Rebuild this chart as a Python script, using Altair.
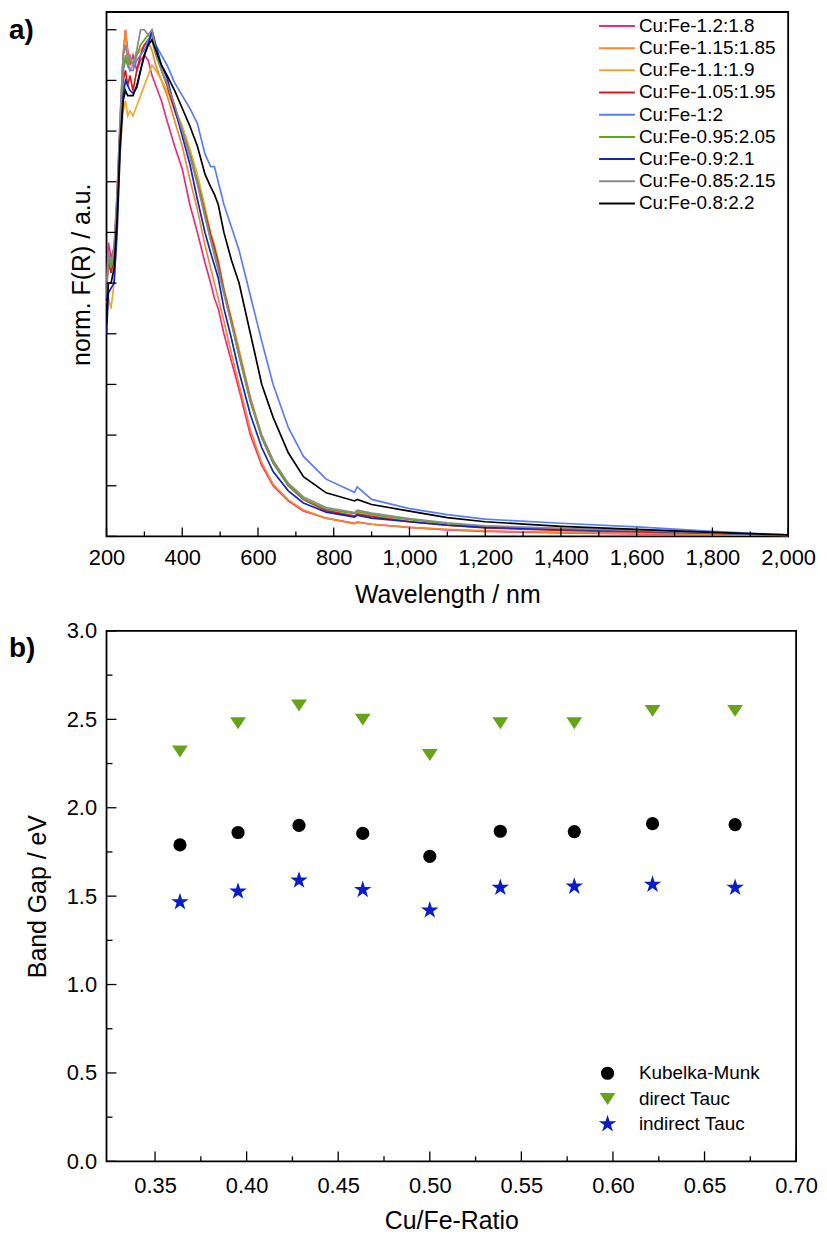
import altair as alt
import pandas as pd

FONT = "Liberation Sans"

# ---------------- panel a) data ----------------
series_names = ["Cu:Fe-1.2:1.8", "Cu:Fe-1.15:1.85", "Cu:Fe-1.1:1.9", "Cu:Fe-1.05:1.95",
                "Cu:Fe-1:2", "Cu:Fe-0.95:2.05", "Cu:Fe-0.9:2.1", "Cu:Fe-0.85:2.15", "Cu:Fe-0.8:2.2"]
series_colors = ["#f5277d", "#f7862f", "#f0a92a", "#d7191c", "#5b7cfa",
                 "#5fa624", "#1122cc", "#8a8a8a", "#000000"]

wavelength = [200, 205, 212, 220, 228, 236, 244, 250, 256, 262, 270, 280, 290, 300, 310, 320,
              330, 345, 360, 380, 400, 420, 440, 460, 475, 485, 495, 510, 530, 550, 580, 610,
              640, 680, 720, 780, 855, 862, 900, 1000, 1100, 1200, 1400, 1600, 1800, 2000]

fr_12_18 = [.50, .58, .55, .57, .68, .82, .95, 1.00, .96, .93, .95, .92, .94, .95, .94, .91,
            .89, .86, .82, .77, .725, .655, .60, .54, .50, .47, .45, .40, .345, .29, .20, .14,
            .10, .07, .05, .036, .026, .028, .024, .018, .013, .010, .007, .005, .003, .002]
fr_115_185 = [.48, .54, .52, .55, .66, .80, .95, 1.00, .95, .92, .93, .95, .96, .97, .975, .96,
              .93, .90, .87, .82, .77, .705, .645, .575, .53, .50, .47, .425, .36, .30, .21, .145,
              .103, .072, .052, .036, .025, .028, .024, .018, .014, .011, .008, .006, .004, .002]
fr_11_19 = [.46, .47, .45, .50, .62, .76, .84, .86, .83, .84, .83, .85, .87, .89, .91, .93,
            .92, .90, .88, .845, .81, .765, .715, .65, .60, .575, .545, .49, .43, .37, .275, .20,
            .15, .102, .075, .052, .040, .045, .040, .030, .023, .018, .013, .010, .006, .002]
fr_105_195 = [.49, .55, .52, .55, .65, .80, .90, .92, .89, .91, .88, .92, .95, .97, .98, .99,
              .96, .92, .89, .84, .80, .755, .70, .64, .595, .57, .54, .485, .425, .36, .27, .195,
              .145, .10, .073, .051, .040, .044, .039, .029, .022, .017, .012, .009, .006, .002]
fr_1_2 = [.47, .56, .53, .56, .66, .80, .92, .94, .93, .92, .92, .94, .95, .96, .98, .99,
          .97, .95, .93, .895, .87, .845, .815, .755, .73, .73, .70, .655, .61, .565, .475, .385,
          .30, .215, .158, .113, .087, .098, .073, .055, .043, .034, .026, .019, .010, .003]
fr_095_205 = [.50, .55, .53, .56, .66, .81, .92, .95, .93, .94, .93, .95, .97, .98, .99, .98,
              .95, .92, .895, .85, .80, .755, .70, .635, .585, .555, .525, .48, .42, .355, .265, .195,
              .145, .10, .074, .054, .045, .049, .043, .033, .025, .020, .015, .011, .007, .002]
fr_09_21 = [.40, .48, .49, .50, .60, .76, .87, .90, .89, .88, .875, .885, .92, .95, .97, 1.00,
            .97, .93, .905, .845, .79, .735, .665, .60, .56, .535, .51, .45, .39, .325, .24, .175,
            .128, .09, .066, .048, .038, .042, .036, .029, .022, .018, .014, .011, .007, .002]
fr_085_215 = [.50, .56, .54, .57, .67, .83, .95, .97, .94, .95, .93, .96, 1.00, 1.00, .99, 1.00,
              .96, .92, .895, .85, .80, .75, .695, .63, .585, .56, .53, .48, .42, .36, .27, .20,
              .15, .105, .078, .057, .047, .052, .046, .035, .027, .021, .016, .012, .007, .002]
fr_08_22 = [.42, .50, .50, .53, .63, .78, .86, .88, .87, .87, .87, .89, .92, .95, .97, .98,
            .96, .93, .91, .88, .845, .81, .77, .715, .69, .675, .655, .60, .545, .50, .40, .30,
            .235, .165, .118, .086, .070, .073, .063, .050, .037, .029, .020, .014, .008, .003]

series_values = [fr_12_18, fr_115_185, fr_11_19, fr_105_195, fr_1_2,
                 fr_095_205, fr_09_21, fr_085_215, fr_08_22]

wl_label_values = [200, 400, 600, 800, 1000, 1200, 1400, 1600, 1800, 2000]
wl_minor_values = [300, 500, 700, 900, 1100, 1300, 1500, 1700, 1900]
fr_tick_values = [0.0, 0.1, 0.2, 0.3, 0.4, 0.5, 0.6, 0.7, 0.8, 0.9, 1.0]

# ---------------- panel b) data ----------------
STAR = ("M0,-1.4L0.315,-0.433L1.331,-0.433L0.508,0.165L0.823,1.133L0,0.535"
        "L-0.823,1.133L-0.508,0.165L-1.331,-0.433L-0.315,-0.433Z")
TRI_DOWN = "M-1.2,-0.85L1.2,-0.85L0,0.95Z"
methods = ["Kubelka-Munk", "direct Tauc", "indirect Tauc"]
method_colors = ["#000000", "#66a318", "#0a1ec8"]
method_shapes = ["circle", TRI_DOWN, STAR]
cu_fe_ratio = [0.3636, 0.3953, 0.4286, 0.4634, 0.5, 0.5385, 0.5789, 0.6216, 0.6667]
gap_km = [1.79, 1.86, 1.90, 1.855, 1.725, 1.867, 1.865, 1.91, 1.905]
gap_direct = [2.32, 2.48, 2.58, 2.50, 2.30, 2.48, 2.48, 2.55, 2.55]
gap_indirect = [1.467, 1.527, 1.589, 1.536, 1.42, 1.548, 1.555, 1.566, 1.548]

ratio_label_values = [0.35, 0.40, 0.45, 0.50, 0.55, 0.60, 0.65, 0.70]
ratio_minor_values = [0.375, 0.425, 0.475, 0.525, 0.575, 0.625, 0.675]
gap_label_values = [0.0, 0.5, 1.0, 1.5, 2.0, 2.5, 3.0]
gap_minor_values = [0.25, 0.75, 1.25, 1.75, 2.25, 2.75]

# ---------------- tables ----------------
rows = []
for name, vals in zip(series_names, series_values):
    for w, v in zip(wavelength, vals):
        rows.append({"name": name, "wl": w, "fr": v})
spec_df = pd.DataFrame(rows)

pts = []
for m, vals in zip(methods, [gap_km, gap_direct, gap_indirect]):
    for r, g in zip(cu_fe_ratio, vals):
        pts.append({"method": m, "ratio": r, "gap": g})
gap_df = pd.DataFrame(pts)

W1, H1 = 685, 527
W2, H2 = 693, 533
RULE = dict(color="black", strokeWidth=1.3)

xa = alt.Scale(domain=[200, 2000], nice=False, zero=False)
ya = alt.Scale(domain=[0, 1.035], nice=False, zero=False)

lines = alt.Chart(spec_df).mark_line(strokeWidth=1.7, clip=True).encode(
    x=alt.X("wl:Q", scale=xa, title="Wavelength / nm",
            axis=alt.Axis(values=wl_label_values, ticks=False, domain=False, grid=False,
                          labelFlush=False, labelOverlap=False, labelPadding=11, titlePadding=14)),
    y=alt.Y("fr:Q", scale=ya, title="norm. F(R) / a.u.",
            axis=alt.Axis(labels=False, ticks=False, domain=False, grid=False, titlePadding=12)),
    color=alt.Color("name:N", scale=alt.Scale(domain=series_names, range=series_colors), title=None,
                    legend=alt.Legend(orient="none", legendX=494, legendY=3, symbolType="stroke",
                                      symbolSize=1296, symbolStrokeWidth=2, clipHeight=22,
                                      rowPadding=0.3, labelOffset=3, labelFontSize=19,
                                      labelFont=FONT, labelColor="black", padding=0, labelLimit=300)),
)

a_xmaj = alt.Chart(pd.DataFrame({"t": wl_label_values})).mark_rule(**RULE).encode(
    x=alt.X("t:Q", scale=xa), y=alt.value(H1), y2=alt.value(H1 - 9))
a_xmin = alt.Chart(pd.DataFrame({"t": wl_minor_values})).mark_rule(**RULE).encode(
    x=alt.X("t:Q", scale=xa), y=alt.value(H1), y2=alt.value(H1 - 5))
a_ymaj = alt.Chart(pd.DataFrame({"t": fr_tick_values})).mark_rule(**RULE).encode(
    y=alt.Y("t:Q", scale=ya), x=alt.value(0), x2=alt.value(10))

tag_a = alt.Chart(pd.DataFrame({"tag": ["a)"]})).mark_text(
    align="left", baseline="middle", font=FONT, fontSize=28, fontWeight="bold", color="black").encode(
    x=alt.value(-98), y=alt.value(19), text="tag:N")

top = alt.layer(lines, a_xmaj, a_xmin, a_ymaj, tag_a).properties(width=W1, height=H1)

# ---------------- panel b) ----------------
xb = alt.Scale(domain=[0.3235, 0.70], nice=False, zero=False)
yb = alt.Scale(domain=[0, 3], nice=False, zero=False)

leg_b = alt.Legend(orient="none", legendX=494, legendY=432, symbolSize=175,
                   clipHeight=25, rowPadding=0.5, labelOffset=22, labelFontSize=19,
                   labelFont=FONT, labelColor="black", padding=0,
                   symbolStrokeWidth=0, labelLimit=300)

points = alt.Chart(gap_df).mark_point(filled=True, opacity=1, size=175).encode(
    x=alt.X("ratio:Q", scale=xb, title="Cu/Fe-Ratio",
            axis=alt.Axis(values=ratio_label_values, format=".2f", ticks=False, domain=False, grid=False,
                          labelFlush=False, labelOverlap=False, labelPadding=14, titlePadding=12)),
    y=alt.Y("gap:Q", scale=yb, title="Band Gap / eV",
            axis=alt.Axis(values=gap_label_values, format=".1f", ticks=False, domain=False, grid=False,
                          labelPadding=10, titlePadding=16)),
    shape=alt.Shape("method:N", scale=alt.Scale(domain=methods, range=method_shapes), title=None,
                    legend=leg_b),
    color=alt.Color("method:N", scale=alt.Scale(domain=methods, range=method_colors), title=None,
                    legend=leg_b),
)

b_xmaj = alt.Chart(pd.DataFrame({"t": ratio_label_values})).mark_rule(**RULE).encode(
    x=alt.X("t:Q", scale=xb), y=alt.value(H2), y2=alt.value(H2 - 10))
b_xmin = alt.Chart(pd.DataFrame({"t": ratio_minor_values})).mark_rule(**RULE).encode(
    x=alt.X("t:Q", scale=xb), y=alt.value(H2), y2=alt.value(H2 - 5))
b_ymaj = alt.Chart(pd.DataFrame({"t": gap_label_values})).mark_rule(**RULE).encode(
    y=alt.Y("t:Q", scale=yb), x=alt.value(0), x2=alt.value(10))
b_ymin = alt.Chart(pd.DataFrame({"t": gap_minor_values})).mark_rule(**RULE).encode(
    y=alt.Y("t:Q", scale=yb), x=alt.value(0), x2=alt.value(6))

tag_b = alt.Chart(pd.DataFrame({"tag": ["b)"]})).mark_text(
    align="left", baseline="middle", font=FONT, fontSize=28, fontWeight="bold", color="black").encode(
    x=alt.value(-98), y=alt.value(18), text="tag:N")

bottom = alt.layer(points, b_xmaj, b_xmin, b_ymaj, b_ymin, tag_b).properties(width=W2, height=H2)

chart = alt.vconcat(top, bottom, spacing=95, bounds="flush").resolve_scale(
    color="independent", shape="independent"
).properties(
    padding=0
).configure_view(
    stroke="black", strokeWidth=1.8
).configure_axis(
    labelFont=FONT, titleFont=FONT, labelFontSize=22, titleFontSize=25,
    labelColor="black", titleColor="black", titleFontWeight="normal"
)

chart.save("out.html", embed_options={"renderer": "svg", "actions": False})
